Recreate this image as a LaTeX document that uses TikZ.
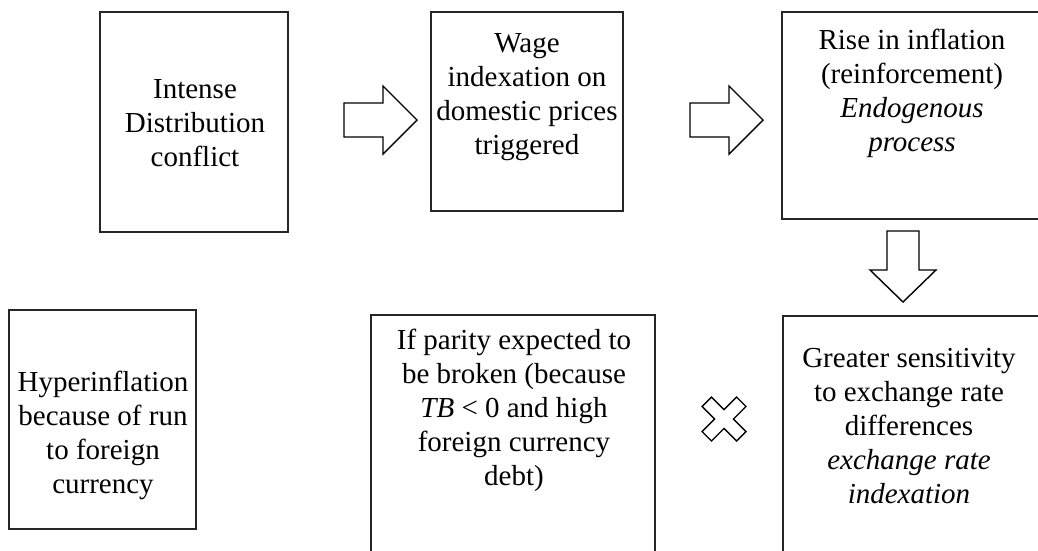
\documentclass[tikz,border=0pt]{standalone}
\usepackage{fontspec}
\setmainfont{Liberation Serif}
\begin{document}
\begin{tikzpicture}[x=1pt,y=-1pt,
  box/.style={draw=black!85,line width=1.2pt,inner sep=0pt,outer sep=0pt,anchor=north west},
  txt/.style={align=center,inner sep=0pt,font=\fontsize{29}{34}\selectfont},
  blockarrow/.style={draw=black,line width=1.4pt,fill=white,line join=miter}]
\useasboundingbox (0,0) rectangle (1038,550);
\clip (0,0) rectangle (1038,550);
% boxes
\node[box,minimum width=188pt,minimum height=220pt] (b1) at (100,12) {};
\node[box,minimum width=192pt,minimum height=199pt] (b2) at (431,12) {};
\node[box,minimum width=270pt,minimum height=207pt] (b3) at (782,12) {};
\node[box,minimum width=187pt,minimum height=219pt] (b4) at (9,310) {};
\node[box,minimum width=284pt,minimum height=260pt] (b5) at (371,315) {};
\node[box,minimum width=270pt,minimum height=260pt] (b6) at (783,316) {};
% texts
\node[txt] (t1) at (195,123) {Intense\\Distribution\\conflict};
\node[txt] (t2) at (527,97) {Wage\\indexation on\\domestic prices\\triggered};
\node[txt] (t3) at (912,93) {Rise in inflation\\(reinforcement)\\\textit{Endogenous}\\\textit{process}};
\node[txt] (t4) at (103,435) {Hyperinflation\\because of run\\to foreign\\currency};
\node[txt] (t5) at (514,410) {If parity expected to\\be broken (because\\\textit{TB} < 0 and high\\foreign currency\\debt)};
\node[txt] (t6) at (909,426) {Greater sensitivity\\to exchange rate\\differences\\\textit{exchange rate}\\\textit{indexation}};
% right block arrows
\draw[blockarrow] (344,103) -- (383,103) -- (383,86) -- (417,120) -- (383,154) -- (383,137) -- (344,137) -- cycle;
\draw[blockarrow] (690,103) -- (729,103) -- (729,86) -- (763,120) -- (729,154) -- (729,137) -- (690,137) -- cycle;
% down block arrow
\draw[blockarrow] (887,231) -- (919,231) -- (919,270) -- (936,270) -- (903,302) -- (870,270) -- (887,270) -- cycle;
% multiply sign
\begin{scope}[shift={(724,419)},rotate=45]
\draw[blockarrow] (-6.7,-24.4) -- (6.7,-24.4) -- (6.7,-6.7) -- (24.4,-6.7) -- (24.4,6.7) -- (6.7,6.7) -- (6.7,24.4) -- (-6.7,24.4) -- (-6.7,6.7) -- (-24.4,6.7) -- (-24.4,-6.7) -- (-6.7,-6.7) -- cycle;
\end{scope}
\end{tikzpicture}
\end{document}
